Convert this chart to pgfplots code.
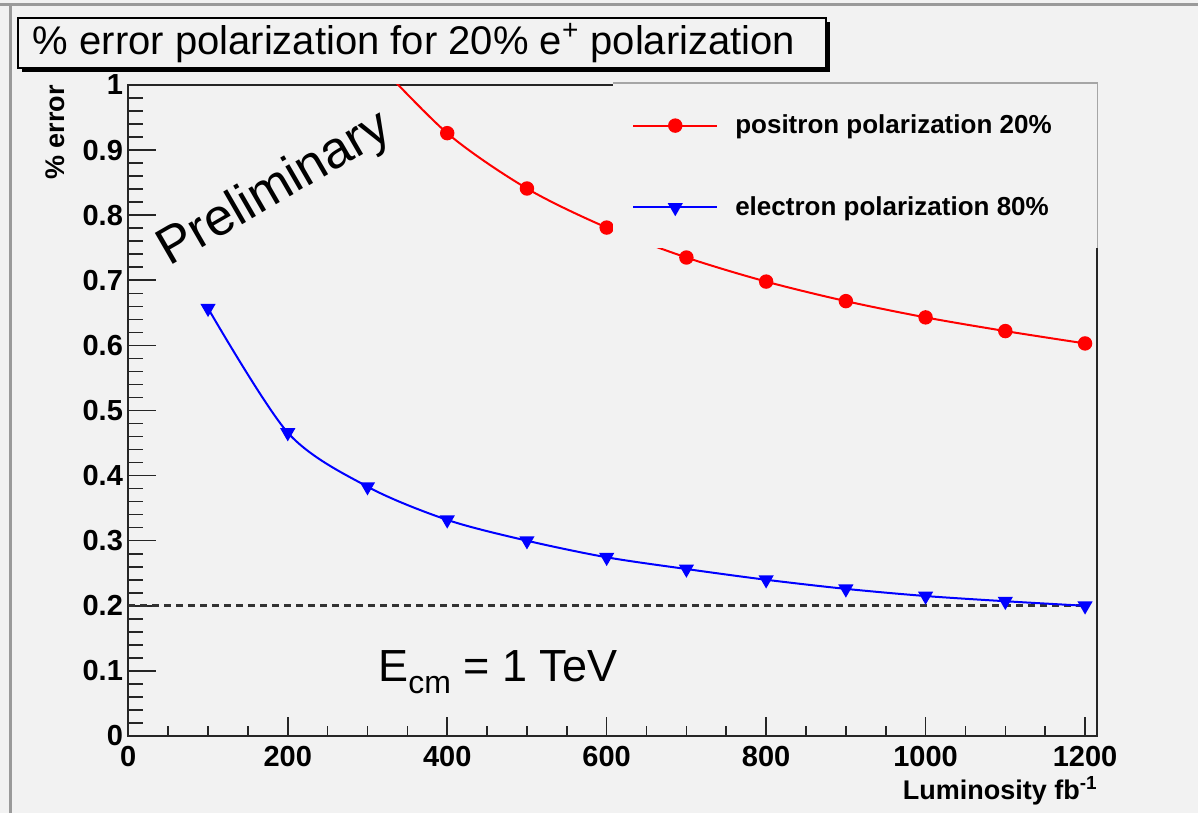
\documentclass[border=0pt]{standalone}
\usepackage{pgfplots}
\pgfplotsset{compat=1.18}
\usepackage{fontspec}
\setmainfont{Liberation Sans}
\definecolor{bg}{HTML}{F2F2F2}
\definecolor{framegray}{HTML}{9A9A9A}
\pgfplotsset{rootframe/.style={
  at={(64.15pt,38.5pt)}, anchor=south west,
  scale only axis, width=484.35pt, height=325.5pt,
  xmin=0, xmax=1215, ymin=0, ymax=1,
  axis line style={black!85, line width=1pt},
  tick align=inside, tick pos=left,
  every tick/.style={black!85, line width=0.8pt},
  ticklabel style={font=\bfseries\fontsize{14.5}{15}\selectfont},
  label style={font=\bfseries\fontsize{13.5}{14}\selectfont},
}}
\begin{document}
\begin{tikzpicture}
\fill[bg] (0,0) rectangle (599pt,406.5pt);
\draw[framegray, line width=1.5pt] (0,404pt) -- (599pt,404pt);
\draw[framegray, line width=1.5pt] (5pt,0) -- (5pt,404pt);
% title box
\fill[black] (11pt,370.5pt) rectangle (415pt,395.5pt);
\filldraw[fill=bg, draw=black, line width=0.8pt] (9pt,372.5pt) rectangle (413pt,397.5pt);
\node[font=\fontsize{20}{20}\selectfont, inner sep=0pt] at (207pt,385pt) {\% error polarization for 20\% e\textsuperscript{+} polarization};
% x axis ticks (shorter)
\begin{axis}[rootframe,
  major tick length=9.5pt, minor tick length=5pt,
  xtick={0,200,400,600,800,1000,1200},
  xticklabels={0,200,400,600,800,1000,1200},
  ytick=\empty, minor x tick num=3,
  xticklabel style={inner sep=0pt, yshift=-5pt},
  xlabel={Luminosity fb\textsuperscript{-1}},
  xlabel style={at={(rel axis cs:1.001,-0.0983)}, anchor=base east, inner sep=0pt},
]
\end{axis}
% main axis with y ticks and data
\begin{axis}[rootframe,
  clip mode=individual,
  major tick length=14pt, minor tick length=7.5pt,
  xtick=\empty,
  ytick={0,0.1,0.2,0.3,0.4,0.5,0.6,0.7,0.8,0.9,1},
  yticklabels={0,0.1,0.2,0.3,0.4,0.5,0.6,0.7,0.8,0.9,1},
  minor y tick num=4,
  yticklabel style={inner sep=0pt, xshift=-2.5pt},
  ylabel={\% error},
  ylabel style={at={(rel axis cs:-0.0753,1)}, anchor=east, inner sep=0pt},
  legend cell align=left,
  legend style={at={(axis cs:631.6,0.955)}, anchor=north west, draw=none, fill=none,
    inner sep=0pt, row sep=30pt, font=\bfseries\fontsize{13}{14}\selectfont,
    nodes={inner sep=0pt},
    /tikz/every odd column/.append style={column sep=8.5pt}},
  legend image code/.code={\draw[mark repeat=2,mark phase=2,#1] plot coordinates {(0pt,0pt) (21pt,0pt) (42pt,0pt)};},
]
\addplot[black!80, line width=1.5pt, dash pattern=on 3.5pt off 2.5pt, forget plot] coordinates {(0,0.2) (1200,0.2)};
\addplot[red, line width=1pt, smooth, mark=*, mark size=3.1pt, mark options={fill=red, solid}] coordinates {
(300,1.05) (400,0.926) (500,0.841) (600,0.781) (700,0.735) (800,0.698) (900,0.668) (1000,0.643) (1100,0.622) (1200,0.603)};
\addlegendentry{positron polarization 20\%}
\addplot[blue, line width=1pt, smooth, mark=triangle*, mark size=3.4pt, mark options={fill=blue, rotate=180, solid}] coordinates {
(100,0.657) (200,0.466) (300,0.383) (400,0.332) (500,0.300) (600,0.2745) (700,0.2565) (800,0.240) (900,0.226) (1000,0.215) (1100,0.207) (1200,0.200)};
\addlegendentry{electron polarization 80\%}
\fill[bg] (axis cs:608,0.7496) rectangle (axis cs:1216,1.003);
\draw[gray!70, line width=0.6pt] (axis cs:608,1.003) -- (axis cs:1216,1.003) -- (axis cs:1216,0.7496);
\end{axis}
\node[rotate=30, font=\fontsize{26}{26}\selectfont, inner sep=0pt] at (137.5pt,311.5pt) {Preliminary};
\node[anchor=base west, inner sep=0pt, font=\fontsize{22.5}{23}\selectfont] at (189pt,65.5pt) {E\raisebox{-6pt}{\fontsize{16}{16}\selectfont cm} = 1 TeV};
\pgfresetboundingbox
\path[use as bounding box] (0,0) rectangle (599pt,406.5pt);
\end{tikzpicture}
\end{document}
